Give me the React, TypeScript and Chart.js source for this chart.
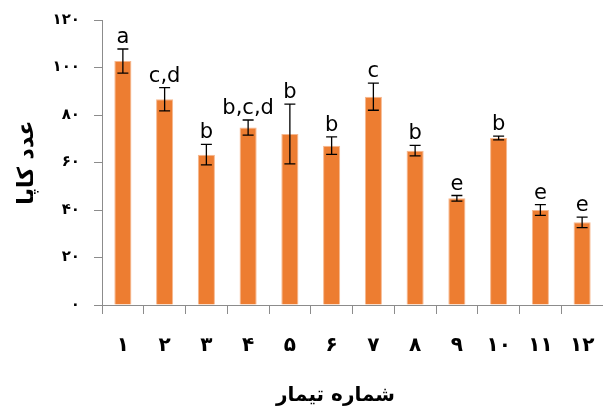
import React, { useEffect, useRef } from "react";
import { Chart, registerables } from "chart.js";

Chart.register(...registerables);

const categories = ["۱", "۲", "۳", "۴", "۵", "۶", "۷", "۸", "۹", "۱۰", "۱۱", "۱۲"];
const means = [102.7, 86.6, 63.3, 74.7, 72.0, 67.1, 87.7, 65.0, 44.9, 70.3, 40.0, 34.8];
const errors = [5.1, 4.9, 4.3, 3.2, 12.6, 3.7, 5.7, 2.2, 1.2, 0.8, 2.3, 2.2];
const letters = ["a", "c,d", "b", "b,c,d", "b", "b", "c", "b", "e", "b", "e", "e"];
const yTitle = "عدد کاپا";
const xTitle = "شماره تیمار";

const toPersian = (n: number | string) =>
  String(n).replace(/[0-9]/g, (d) => "۰۱۲۳۴۵۶۷۸۹"[Number(d)]);

const AXIS = "#8c8c8c";
const FONT = "'DejaVu Sans', sans-serif";

const errorPlugin = {
  id: "errorBarsLetters",
  afterDatasetsDraw(chart: any) {
    const { ctx } = chart;
    const meta = chart.getDatasetMeta(0);
    const y = chart.scales.y;
    ctx.save();
    ctx.strokeStyle = "#000";
    ctx.lineWidth = 1.3;
    meta.data.forEach((bar: any, i: number) => {
      const x = bar.x;
      const top = y.getPixelForValue(means[i] + errors[i]);
      const bot = y.getPixelForValue(means[i] - errors[i]);
      const cap = 5.5;
      ctx.beginPath();
      ctx.moveTo(x, top);
      ctx.lineTo(x, bot);
      ctx.moveTo(x - cap, top);
      ctx.lineTo(x + cap, top);
      ctx.moveTo(x - cap, bot);
      ctx.lineTo(x + cap, bot);
      ctx.stroke();
      ctx.fillStyle = "#000";
      ctx.font = "21px 'DejaVu Sans', sans-serif";
      ctx.textAlign = "center";
      ctx.textBaseline = "alphabetic";
      ctx.fillText(letters[i], x, top - 6);
    });
    // x-axis title (drawn slightly left of the plot centre, as in the original)
    const ca = chart.chartArea;
    ctx.font = "bold 20px 'DejaVu Sans', sans-serif";
    ctx.textAlign = "center";
    ctx.textBaseline = "middle";
    ctx.fillText(xTitle, (ca.left + ca.right) / 2 - 17, 396);
    ctx.restore();
  },
};

export default function App() {
  const ref = useRef<HTMLCanvasElement | null>(null);
  useEffect(() => {
    if (!ref.current) return;
    const chart = new Chart(ref.current, {
      type: "bar",
      data: {
        labels: categories,
        datasets: [
          {
            data: means,
            backgroundColor: "#ED7D31",
            borderColor: "#F6B88F",
            borderWidth: 1,
            categoryPercentage: 1,
            barPercentage: 0.41,
          },
        ],
      },
      options: {
        responsive: false,
        animation: false,
        devicePixelRatio: 1,
        layout: { padding: { top: 20, right: 0, left: 0, bottom: 0 } },
        plugins: { legend: { display: false }, tooltip: { enabled: false } },
        scales: {
          x: {
            offset: true,
            grid: { offset: true, drawOnChartArea: false, color: AXIS, tickLength: 9, lineWidth: 1 },
            border: { color: AXIS, width: 1 },
            ticks: { color: "#000", font: { family: FONT, size: 20, weight: "bold" }, padding: 20, maxRotation: 0, autoSkip: false },
            title: { display: false },
            afterFit: (s: any) => { s.height = 107; s.paddingLeft = 0; s.paddingRight = 0; },
          },
          y: {
            min: 0,
            max: 120,
            ticks: { stepSize: 20, color: "#000", font: { family: FONT, size: 15, weight: "bold" }, padding: 14, callback: (v: any) => toPersian(v) },
            grid: { drawOnChartArea: false, color: AXIS, tickLength: 8 },
            border: { color: AXIS, width: 1 },
            title: { display: true, text: yTitle, color: "#000", font: { family: FONT, size: 22, weight: "bold" }, padding: { top: 14, bottom: 0 } },
            afterFit: (s: any) => { s.width = 102; s.paddingTop = 0; s.paddingBottom = 0; },
          },
        },
      },
      plugins: [errorPlugin],
    });
    return () => chart.destroy();
  }, []);
  return (
    <div style={{ position: "absolute", left: 0, top: 0, width: 603, height: 412, background: "#fff" }}>
      <canvas ref={ref} width={603} height={412} />
    </div>
  );
}
